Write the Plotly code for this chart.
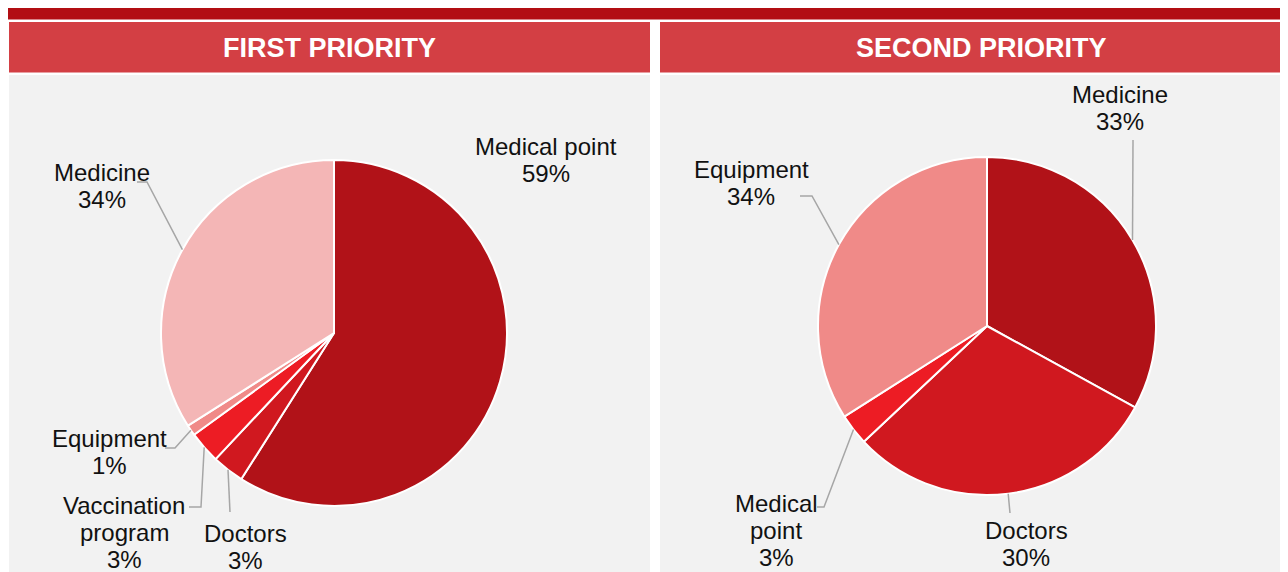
import math
import plotly.graph_objects as go

# data
first_labels = ["Medical point", "Doctors", "Vaccination program", "Equipment", "Medicine"]
first_values = [59, 3, 3, 1, 34]
second_labels = ["Medicine", "Doctors", "Medical point", "Equipment"]
second_values = [33, 30, 3, 34]
panel_titles = ["FIRST PRIORITY", "SECOND PRIORITY"]

# the page body has an 8px margin, so the figure is drawn 8px in from the corner
OFF = 8
W, H = 1288 - OFF, 572 - OFF
slice_colors = ["#B11218", "#D0181F", "#ED1C24", "#F08A88", "#F4B6B6"]
leader_color = "#A6A6A6"
LINE_GAP = 27

# pie geometry in screen pixels: center x, center y, radius
pies = [
    dict(cx=334, cy=333, r=173),
    dict(cx=987, cy=326, r=169),
]

# label layout: text lines, first line centre, leader path (after slice edge point)
first_layout = {
    "Medical point": dict(lines=["Medical point"], pos=(546, 146), path=None),
    "Doctors": dict(lines=["Doctors"], pos=(245, 533), path=[(230, 512)]),
    "Vaccination program": dict(lines=["Vaccination", "program"], pos=(124, 505),
                                path=[(201, 507), (189, 507)]),
    "Equipment": dict(lines=["Equipment"], pos=(109, 438), path=[(175, 448), (165, 448)]),
    "Medicine": dict(lines=["Medicine"], pos=(102, 172), path=[(147, 182), (137, 182)]),
}
second_layout = {
    "Medicine": dict(lines=["Medicine"], pos=(1120, 94), path=[(1133, 140)]),
    "Doctors": dict(lines=["Doctors"], pos=(1026, 530), path=[(1010, 513)]),
    "Medical point": dict(lines=["Medical", "point"], pos=(776, 503),
                          path=[(824, 507), (817, 507)]),
    "Equipment": dict(lines=["Equipment"], pos=(751, 169), path=[(812, 196), (800, 196)]),
}

fig = go.Figure()

# panel backgrounds
shapes = [
    dict(type="rect", x0=7, x1=1288, y0=0, y1=19.5, fillcolor="#B20E13", line_width=0, layer="below"),
    dict(type="rect", x0=9, x1=650, y0=22, y1=72.5, fillcolor="#D33F44", line_width=0, layer="below"),
    dict(type="rect", x0=660, x1=1288, y0=22, y1=72.5, fillcolor="#D33F44", line_width=0, layer="below"),
    dict(type="rect", x0=9, x1=650, y0=75, y1=572, fillcolor="#F2F2F2", line_width=0, layer="below"),
    dict(type="rect", x0=660, x1=1288, y0=75, y1=572, fillcolor="#F2F2F2", line_width=0, layer="below"),
]
annotations = []

header_x = [329.5, 981]
for title, hx in zip(panel_titles, header_x):
    annotations.append(dict(
        x=hx, y=47.5, xref="x", yref="y", text=title, showarrow=False,
        font=dict(family="Liberation Sans", size=27, color="white", weight="bold"),
        xanchor="center", yanchor="middle",
    ))

datasets = [
    (first_labels, first_values, first_layout),
    (second_labels, second_values, second_layout),
]

for (labels, values, lay), geo in zip(datasets, pies):
    cx, cy, r = geo["cx"], geo["cy"], geo["r"]
    fx, fy = cx - OFF, cy - OFF
    fig.add_trace(go.Pie(
        labels=labels,
        values=values,
        sort=False,
        direction="clockwise",
        rotation=0,
        marker=dict(colors=slice_colors[:len(values)], line=dict(color="white", width=2)),
        textinfo="none",
        hovertemplate="%{label}: %{value}%<extra></extra>",
        showlegend=False,
        domain=dict(x=[(fx - r) / W, (fx + r) / W], y=[1 - (fy + r) / H, 1 - (fy - r) / H]),
    ))

    total = sum(values)
    cum = 0
    for lab, val in zip(labels, values):
        mid = (cum + val / 2) / total * 2 * math.pi
        cum += val
        ex = cx + r * math.sin(mid)
        ey = cy - r * math.cos(mid)
        info = lay[lab]
        lines = info["lines"] + [f"{val}%"]
        px, py = info["pos"]
        for i, ln in enumerate(lines):
            annotations.append(dict(
                x=px, y=py + i * LINE_GAP, xref="x", yref="y", text=ln, showarrow=False,
                font=dict(family="Liberation Sans", size=24, color="#111111"),
                xanchor="center", yanchor="middle",
            ))
        if info["path"]:
            pts = [(ex, ey)] + info["path"]
            d = "M " + " L ".join(f"{x:.1f},{y:.1f}" for x, y in pts)
            shapes.append(dict(type="path", path=d, xref="x", yref="y",
                               line=dict(color=leader_color, width=1.5), layer="above"))

fig.update_layout(
    width=W, height=H,
    margin=dict(l=0, r=0, t=0, b=0),
    paper_bgcolor="white",
    plot_bgcolor="rgba(0,0,0,0)",
    xaxis=dict(range=[OFF, OFF + W], visible=False, domain=[0, 1], fixedrange=True),
    yaxis=dict(range=[OFF + H, OFF], visible=False, domain=[0, 1], fixedrange=True),
    shapes=shapes,
    annotations=annotations,
)

fig.write_html("out.html")
